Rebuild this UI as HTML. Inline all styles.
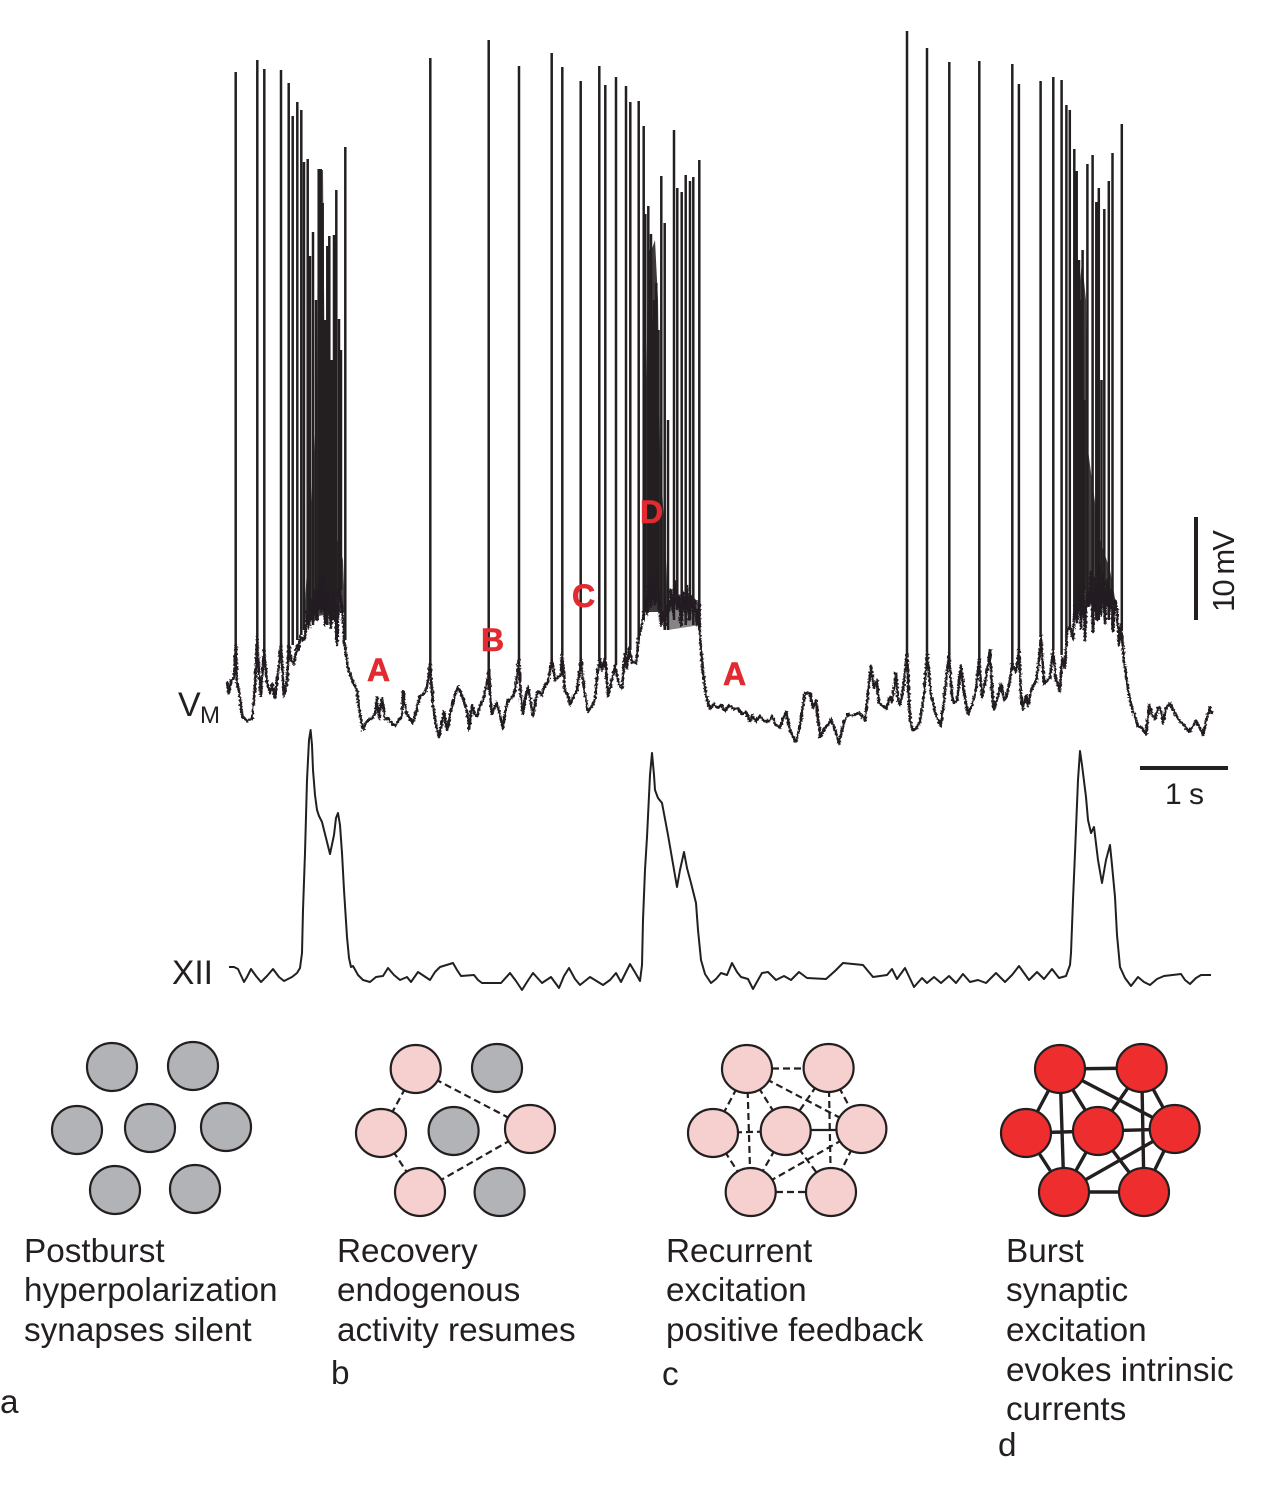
<!DOCTYPE html>
<html><head><meta charset="utf-8"><style>
html,body{margin:0;padding:0;background:#fff;width:1263px;height:1490px;overflow:hidden}
svg{display:block}
text{font-family:"Liberation Sans",sans-serif;fill:#231f20}
.t{font-size:33.3px}
.r{font-size:32px;font-weight:bold;fill:#e22a30;stroke:#e22a30;stroke-width:.6}
.e{stroke:#231f20;fill:none}
</style></head><body>
<svg width="1263" height="1490" viewBox="0 0 1263 1490">
<defs><filter id="j" filterUnits="userSpaceOnUse" x="200" y="20" width="1040" height="740"><feTurbulence type="fractalNoise" baseFrequency="0.45" numOctaves="2" seed="4"/><feDisplacementMap in="SourceGraphic" scale="4" xChannelSelector="R" yChannelSelector="G"/></filter></defs>
<rect width="1263" height="1490" fill="#fff"/>
<!-- dense burst regions -->
<g fill="#231f20">
<path opacity=".82" d="M304 618L310 520L317 400L318 170L323 170L325 400L332 520L343 560L345 612Z"/>
<path opacity=".88" d="M644 612L646 420L648 260L655 240L658 300L660 450L666 560L668 612Z"/>
<path opacity=".85" d="M1076 604L1078 300L1082 262L1086 300L1088 450L1100 540L1110 570L1116 604Z"/>
<path opacity=".55" d="M668 600L700 600L700 625L668 630Z"/>
</g>
<!-- Vm spikes -->
<path fill="none" stroke="#231f20" stroke-width="2.5" d="M235.7 72V660M257.3 60V660M264.3 69V660M281 70V660M288.7 83V650M292.7 116V645M297.3 102V640M301.3 110V635M304 162V630M307.7 159V625M310 256V620M313 232V625M316 300V620M318.7 169V610M320.7 169V610M322.7 203V610M325 320V620M327.3 246V625M329.3 236V615M331.5 360V620M334 235V620M336.3 190V640M339 319V590M341 350V590M345.3 147V640
M430.3 58V665M488.7 40V690M519 66V660M551.7 53V660M562.3 67V655M580.7 81V660M599.3 66V660M605.3 85V660M616 77V665M626 86V655M630.3 102V650M638.7 101V640M643.7 126V620M645.3 214V610M648.3 206V610M650 250V600M651 234V600M652.7 319V600M654 300V600M656.3 283V600M658.5 330V610M661.3 176V620M664.7 223V630M668 420V630M674 130V620M677.3 188V610M681.7 192V620M685.7 175V625M690 181V620M693.3 177V625M699.3 160V630
M907 31V655M927 48V652M949.3 62V655M979.3 61V660M1012.3 64V665M1018.9 84V650M1040.6 81V636M1053.3 77V650M1061.6 80V655M1066.4 105V640M1069.8 110V630M1074.3 149V620M1076.7 171V610M1079 260V600M1080.5 300V600M1082.6 250V590M1084.5 400V590M1087.4 164V600M1092.6 155V610M1096.3 202V620M1098.8 188V620M1101.5 380V600M1104.3 209V610M1108.8 181V620M1112.5 153V630M1121.8 124V630"/>
<!-- Vm trace -->
<path filter="url(#j)" fill="none" stroke="#231f20" stroke-width="2.6" stroke-linejoin="round" d="M227 682L229 693L231 681L234 677L236 645L237 682L240 696L242 716L247 721L252 719L254 700L256 668L257 636L259 673L261 696L264 650L267 682L270 693L272 684L275 698L278 673L281 645L284 696L287 682L289 645L291 660L294 664L297 645L299 650L300 636L303 640L305 638L307 612L309 628L311 600L313 622L315 590L317 620L319 578L321 612L323 575L325 625L327 590L329 600L331 628L333 592L335 610L337 645L339 585L341 600L343 620L344 640L348 668L353 682L357 691L360 714L363 730L366 722L368 721L372 718L375 714L377 698L379 719L382 698L385 719L388 718L390 721L393 724L395 726L399 720L402 716L403 691L406 712L407 714L410 719L413 723L416 712L420 696L424 694L427 687L430 664L433 705L436 725L439 737L442 722L444 712L447 730L449 722L451 710L455 695L458 687L462 695L465 705L467 712L469 730L472 705L475 714L477 716L480 706L483 700L487 682L489 670L491 708L492 714L495 706L497 703L500 716L503 728L506 708L508 700L512 698L515 691L519 659L521 700L523 714L526 694L528 687L531 704L533 716L536 698L538 691L542 695L545 685L548 682L552 659L555 680L558 677L561 675L562 654L565 691L568 695L570 705L574 695L577 691L581 659L584 690L588 712L592 706L595 700L597 677L600 659L602 670L605 659L608 696L611 684L615 666L619 685L622 689L625 654L627 668L629 648L632 662L636 663L639 636L641 628L643 618L645 600L647 614L649 580L651 606L653 575L655 604L657 570L659 600L661 625L663 612L665 628L667 606L669 612L671 590L673 615L675 582L677 608L679 596L681 625L683 592L685 612L687 586L689 620L691 596L693 612L695 600L697 625L699 604L700 636L703 673L706 695L710 709L714 704L718 708L721 705L725 711L729 705L734 709L738 708L742 714L746 712L750 722L752 716L756 721L760 716L764 721L769 721L772 716L776 725L780 728L783 718L786 712L790 730L796 742L800 725L805 693L810 693L813 708L816 700L820 737L825 728L828 725L831 719L835 730L839 744L844 722L848 714L853 716L858 713L862 716L865 721L871 666L874 688L877 680L879 703L883 706L886 709L890 697L892 702L896 673L898 700L900 705L903 690L907 654L910 720L913 730L917 728L920 721L924 695L927 652L931 695L936 715L941 726L945 690L949 654L952 695L954 703L957 700L961 666L964 692L968 714L972 705L976 690L979 659L982 698L986 678L990 650L992 690L994 709L998 696L1001 684L1004 700L1006 698L1010 680L1012 664L1016 672L1019 650L1021 695L1023 709L1026 696L1028 706L1032 687L1036 682L1039 660L1041 636L1044 684L1050 678L1053 650L1056 680L1060 691L1062 657L1065 668L1067 630L1070 627L1073 640L1075 600L1077 622L1079 585L1081 628L1083 580L1085 640L1087 595L1089 606L1091 572L1093 632L1095 578L1097 620L1099 565L1101 615L1103 575L1105 624L1107 580L1109 612L1111 590L1113 631L1115 600L1117 610L1119 645L1121 625L1124 660L1127 682L1130 700L1134 714L1138 726L1142 728L1146 735L1149 705L1152 714L1155 719L1158 708L1160 707L1163 723L1166 708L1170 703L1174 712L1180 721L1184 725L1189 732L1193 726L1196 721L1200 728L1203 735L1207 718L1210 707L1212 714"/>
<!-- XII trace -->
<polyline fill="none" stroke="#231f20" stroke-width="2" stroke-linejoin="round" points="229,967 234,967 238,969 244,982 247,977 251,969 256,976 261,982 267,976 273,969 279,977 284,981 292,977 297,973 300,968 302,953 303,910 305,853 307,780 309,740 310.6,730 312,745 313,770 315,795 317,810 319,816 322,822 326,838 330,854 334,835 336,818 338,813 340,825 342,853 344,890 347,937 349,958 351,967 353,966 358,975 363,980 370,982 376,977 383,976 388,968 394,975 400,980 407,977 411,982 418,972 424,976 430,980 435,972 440,967 453,963 457,970 461,976 474,975 478,980 482,983 495,983 501,983 510,973 516,981 522,990 527,982 533,973 542,983 551,977 559,988 564,976 569,968 575,979 580,985 590,977 603,985 610,980 616,973 621,982 630,964 636,974 640,981 642,965 643,920 645,870 647,837 650,775 652,753 654,775 655,790 658,798 662,803 668,835 677,887 680,870 684,852 687,868 691,883 696,903 698,930 701,960 705,974 711,983 716,979 721,973 727,975 732,963 737,972 741,977 748,979 753,989 758,980 762,973 768,972 776,980 784,976 791,980 799,972 807,978 826,979 835,971 843,963 863,965 873,977 887,975 892,969 897,979 905,968 914,987 922,978 927,983 934,977 941,983 949,976 956,983 963,974 970,982 978,980 986,983 996,973 1005,982 1012,975 1019,966 1029,980 1037,972 1044,979 1052,969 1059,978 1066,976 1070,965 1071,953 1073,900 1075,853 1078,780 1080,751 1082,765 1086,797 1088,820 1091,833 1094,827 1098,860 1102,883 1106,860 1110,845 1112,865 1115,897 1117,935 1120,967 1125,978 1131,986 1138,977 1144,982 1150,985 1157,979 1164,976 1181,974 1185,980 1190,984 1196,978 1201,975 1211,975"/>
<!-- scale bars -->
<rect x="1194" y="517" width="4" height="103" fill="#231f20"/>
<rect x="1140" y="766" width="88" height="4" fill="#231f20"/>
<text x="0" y="0" transform="translate(1234,612) rotate(-90)" style="font-size:31px" textLength="82">10 mV</text>
<text x="1165" y="804" style="font-size:30px" textLength="39">1 s</text>
<text x="178" y="716" style="font-size:34px">V</text><text x="200" y="723" style="font-size:24px">M</text>
<text x="172" y="984" style="font-size:34px" textLength="41" lengthAdjust="spacingAndGlyphs">XII</text>
<!-- Red labels -->
<text class="r" x="367" y="681">A</text><text class="r" x="481" y="651">B</text><text class="r" x="572" y="607">C</text><text class="r" x="640" y="523">D</text><text class="r" x="723" y="685">A</text>
<!-- Panel a -->
<g fill="#b1b3b6" stroke="#231f20" stroke-width="2.2">
<ellipse cx="112" cy="1067" rx="25" ry="24"/><ellipse cx="193" cy="1066" rx="25" ry="24"/><ellipse cx="77" cy="1130" rx="25" ry="24"/><ellipse cx="150" cy="1128" rx="25" ry="24"/><ellipse cx="226" cy="1127" rx="25" ry="24"/><ellipse cx="115" cy="1190" rx="25" ry="24"/><ellipse cx="195" cy="1189" rx="25" ry="24"/>
</g>
<!-- Panel b -->
<g class="e" stroke-width="2.2" stroke-dasharray="7 4">
<line x1="415.7" y1="1069" x2="381" y2="1133"/><line x1="415.7" y1="1069" x2="530" y2="1129"/><line x1="381" y1="1133" x2="420" y2="1192"/><line x1="530" y1="1129" x2="420" y2="1192"/>
</g>
<g stroke="#231f20" stroke-width="2.2">
<ellipse cx="415.7" cy="1069" rx="25" ry="24" fill="#f5d0ce"/><ellipse cx="497" cy="1068" rx="25" ry="24" fill="#b1b3b6"/><ellipse cx="381" cy="1133" rx="25" ry="24" fill="#f5d0ce"/><ellipse cx="453.6" cy="1131" rx="25" ry="24" fill="#b1b3b6"/><ellipse cx="530" cy="1129" rx="25" ry="24" fill="#f5d0ce"/><ellipse cx="420" cy="1192" rx="25" ry="24" fill="#f5d0ce"/><ellipse cx="499.6" cy="1192" rx="25" ry="24" fill="#b1b3b6"/>
</g>
<!-- Panel c -->
<path class="e" stroke-width="2.2" stroke-dasharray="7 4" d="M772 1068.5L803 1068.5M747 1069L713 1133M747 1069L785.7 1131M747 1069L861.4 1129M747 1069L750.7 1192M828.6 1068L785.7 1131M828.6 1068L861.4 1129M828.6 1068L831 1192M713 1133L785.7 1131M713 1133L750.7 1192M785.7 1131L750.7 1192M785.7 1131L831 1192M861.4 1129L750.7 1192M861.4 1129L831 1192M776 1192L806 1192"/>
<path class="e" stroke-width="2.2" d="M785.7 1130L861.4 1130"/>
<g fill="#f5d0ce" stroke="#231f20" stroke-width="2.2">
<ellipse cx="747" cy="1069" rx="25" ry="24"/><ellipse cx="828.6" cy="1068" rx="25" ry="24"/><ellipse cx="713" cy="1133" rx="25" ry="24"/><ellipse cx="785.7" cy="1131" rx="25" ry="24"/><ellipse cx="861.4" cy="1129" rx="25" ry="24"/><ellipse cx="750.7" cy="1192" rx="25" ry="24"/><ellipse cx="831" cy="1192" rx="25" ry="24"/>
</g>
<!-- Panel d -->
<path class="e" stroke-width="3.4" d="M1060 1069L1141.7 1068M1060 1069L1026 1133M1060 1069L1098 1131M1060 1069L1174.7 1129M1060 1069L1064 1192M1141.7 1068L1098 1131M1141.7 1068L1174.7 1129M1141.7 1068L1144 1192M1026 1133L1098 1131M1026 1133L1064 1192M1098 1131L1064 1192M1098 1131L1144 1192M1098 1131L1174.7 1129M1174.7 1129L1064 1192M1174.7 1129L1144 1192M1064 1192L1144 1192"/>
<g fill="#ed2d2e" stroke="#231f20" stroke-width="2.2">
<ellipse cx="1060" cy="1069" rx="25" ry="24"/><ellipse cx="1141.7" cy="1068" rx="25" ry="24"/><ellipse cx="1026" cy="1133" rx="25" ry="24"/><ellipse cx="1098" cy="1131" rx="25" ry="24"/><ellipse cx="1174.7" cy="1129" rx="25" ry="24"/><ellipse cx="1064" cy="1192" rx="25" ry="24"/><ellipse cx="1144" cy="1192" rx="25" ry="24"/>
</g>
<!-- Captions -->
<g>
<text class="t" x="24" y="1262">Postburst</text><text class="t" x="24" y="1301">hyperpolarization</text><text class="t" x="24" y="1341">synapses silent</text>
<text class="t" x="337" y="1262">Recovery</text><text class="t" x="337" y="1301">endogenous</text><text class="t" x="337" y="1341">activity resumes</text>
<text class="t" x="666" y="1262">Recurrent</text><text class="t" x="666" y="1301">excitation</text><text class="t" x="666" y="1341">positive feedback</text>
<text class="t" x="1006" y="1262">Burst</text><text class="t" x="1006" y="1301">synaptic</text><text class="t" x="1006" y="1341">excitation</text><text class="t" x="1006" y="1381">evokes intrinsic</text><text class="t" x="1006" y="1420">currents</text>
<text class="t" x="0" y="1413">a</text><text class="t" x="331" y="1384">b</text><text class="t" x="662" y="1385">c</text><text class="t" x="998" y="1456">d</text>
</g>
</svg>
</body></html>
